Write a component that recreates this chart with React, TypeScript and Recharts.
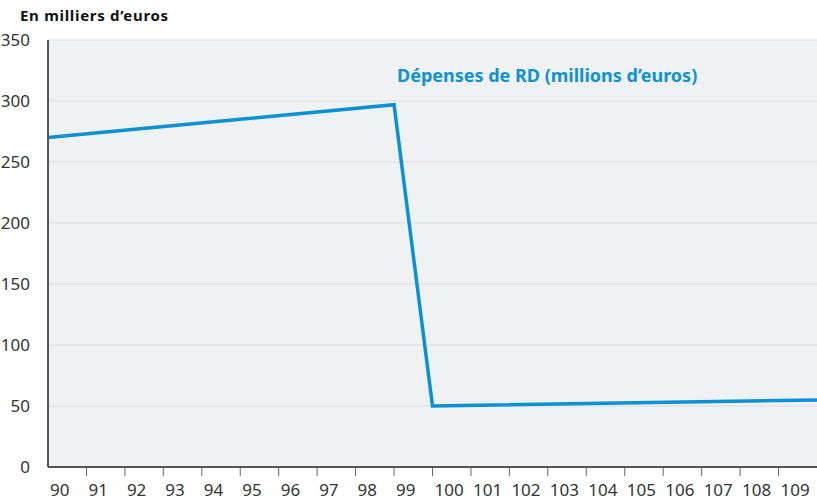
import React from "react";
import { LineChart, Line, XAxis, YAxis, CartesianGrid } from "recharts";

const years = [90, 99, 100, 110];
const spending = [270, 297, 50, 55];
const xTicks = [90, 91, 92, 93, 94, 95, 96, 97, 98, 99, 100, 101, 102, 103, 104, 105, 106, 107, 108, 109];
const yTicks = [0, 50, 100, 150, 200, 250, 300, 350];
const yTitle = "En milliers d\u2019euros";
const seriesLabel = "D\u00e9penses de RD (millions d\u2019euros)";

const data = years.map((y, i) => ({ year: y, value: spending[i] }));

const FONT = "'Noto Sans', 'Open Sans', sans-serif";

const XTick = (props: any) => {
  const { x, y, payload } = props;
  return (
    <g>
      {payload.value !== 90 && (
        <line x1={x} x2={x} y1={y - 7} y2={y + 1} stroke="#666" strokeWidth={1} />
      )}
      <text x={x + 2} y={496} textAnchor="start" fontSize={17} fill="#333" fontFamily={FONT}>
        {payload.value}
      </text>
    </g>
  );
};

export default function App() {
  return (
    <div style={{ position: "absolute", left: 0, top: 0, width: 817, height: 502, background: "#fff" }}>
      <div
        style={{
          position: "absolute",
          left: 20,
          top: 5,
          fontFamily: FONT,
          fontWeight: 700,
          fontSize: 15,
          letterSpacing: 0.7,
          color: "#111",
          whiteSpace: "nowrap",
        }}
      >
        {yTitle}
      </div>
      <div
        style={{
          position: "absolute",
          left: 397,
          top: 63,
          fontFamily: FONT,
          fontWeight: 700,
          fontSize: 18,
          color: "#0b93d6",
          whiteSpace: "nowrap",
          zIndex: 2,
        }}
      >
        {seriesLabel}
      </div>
      <LineChart
        width={817}
        height={502}
        data={data}
        margin={{ top: 40, right: 0, bottom: 0, left: 0 }}
      >
        <CartesianGrid vertical={false} fill="#f0f1f3" stroke="#dcdde0" strokeWidth={1} />
        <XAxis
          dataKey="year"
          type="number"
          domain={[90, 110]}
          ticks={xTicks}
          interval={0}
          height={35}
          tickLine={false}
          axisLine={{ stroke: "#555", strokeWidth: 2 }}
          tick={<XTick />}
        />
        <YAxis
          type="number"
          domain={[0, 350]}
          ticks={yTicks}
          interval={0}
          width={48}
          tickLine={false}
          axisLine={{ stroke: "#555", strokeWidth: 2 }}
          tick={{ fontSize: 17, fill: "#333", fontFamily: FONT }}
          tickMargin={12}
        />
        <Line
          type="linear"
          dataKey="value"
          stroke="#0991d5"
          strokeWidth={3.5}
          dot={false}
          isAnimationActive={false}
          strokeLinejoin="miter"
        />
      </LineChart>
    </div>
  );
}
